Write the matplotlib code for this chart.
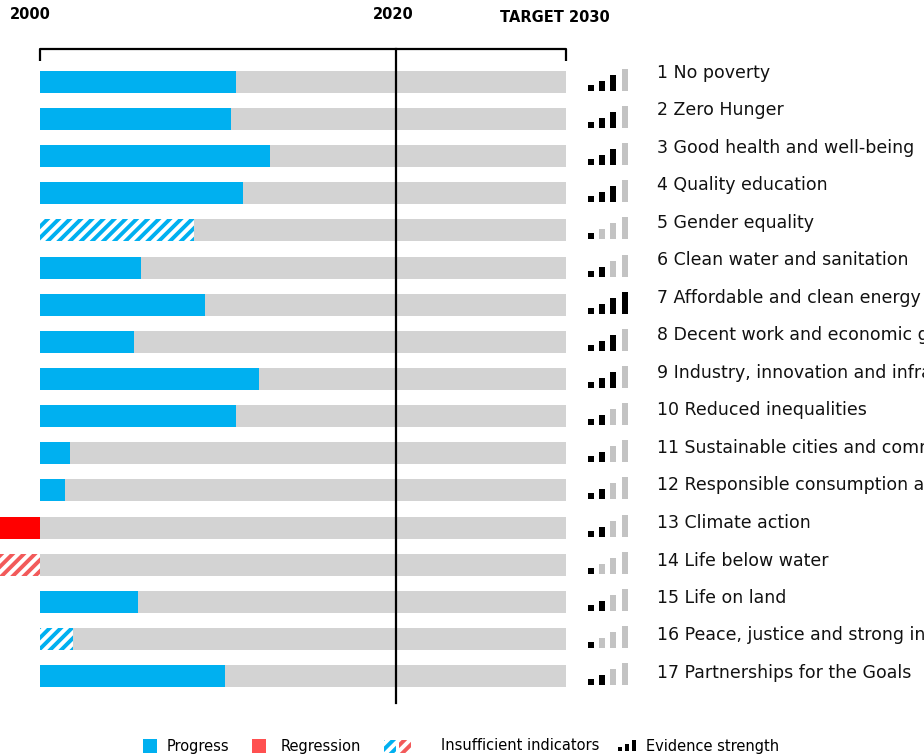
import matplotlib
matplotlib.use("Agg")
import matplotlib.pyplot as plt
from matplotlib.patches import Rectangle

plt.rcParams['font.family'] = ['DejaVu Sans']
plt.rcParams['hatch.linewidth'] = 2.8

# data
goals = ['1 No poverty', '2 Zero Hunger', '3 Good health and well-being',
         '4 Quality education', '5 Gender equality',
         '6 Clean water and sanitation', '7 Affordable and clean energy',
         '8 Decent work and economic growth',
         '9 Industry, innovation and infrastructure',
         '10 Reduced inequalities', '11 Sustainable cities and communities',
         '12 Responsible consumption and production', '13 Climate action',
         '14 Life below water', '15 Life on land',
         '16 Peace, justice and strong institutions',
         '17 Partnerships for the Goals']
# progress towards 2030 target, % (2000 = 0, target = 100)
progress = [37.3, 36.3, 43.7, 38.6, 29.3, 19.2, 31.4, 17.9, 41.6, 37.3,
            5.7, 4.8, -10, -10, 18.6, 6.3, 35.2]
insufficient = [False, False, False, False, True, False, False, False, False,
                False, False, False, False, True, False, True, False]
evidence = [3, 3, 3, 3, 1, 2, 4, 3, 3, 2, 2, 2, 2, 1, 2, 1, 2]
year_2020 = 67.7

BLUE = '#00b0f0'
RED = '#ff0000'
RED_H = '#f25a5a'
GREY = '#d3d3d3'
EV_GREY = '#c3c3c3'

# layout: pixel helpers (figure is 924x755 px)
PX0, PXU = 40.0, 5.26      # x px of 0 %, px per %
PY0, PYU = 82.0, 37.125    # y px of first row, px per row


def px(x):
    return (x - PX0) / PXU


def py(y):
    return (y - PY0) / PYU


fig = plt.figure(figsize=(9.24, 7.55), dpi=100)
ax = fig.add_axes([0, 0, 1, 1])
ax.set_xlim(px(0), px(924))
ax.set_ylim(py(755), py(0))
ax.axis('off')

rows = list(range(len(goals)))
bh = 22 / PYU

ax.barh(rows, 100, height=bh, color=GREY, linewidth=0)
for i, v in enumerate(progress):
    if v < 0:
        col = RED_H if insufficient[i] else RED
    else:
        col = BLUE
    if insufficient[i]:
        ax.barh(i, v, height=bh, facecolor='white', edgecolor=col,
                hatch='///', linewidth=0)
    else:
        ax.barh(i, v, height=bh, color=col, linewidth=0)

# evidence strength icons
ev_x = [px(591), px(602), px(613), px(625)]
ev_h = [6 / PYU, 10 / PYU, 16 / PYU, 22 / PYU]
for i, n in enumerate(evidence):
    cols = ['black' if k < n else EV_GREY for k in range(4)]
    ax.bar(ev_x, [-h for h in ev_h], bottom=i + 9 / PYU, width=6.5 / PXU,
           color=cols, linewidth=0)

# goal labels
for i, g in enumerate(goals):
    ax.text(px(657), py(73 + 37.5 * i), g, fontsize=12.5, va='center',
            ha='left', color='#111111')

# top bracket and 2020 line
ax.plot([0, 0, 100, 100], [py(61), py(49), py(49), py(61)],
        color='black', lw=1.6, solid_capstyle='butt')
ax.plot([year_2020, year_2020], [py(49), py(703)], color='black', lw=1.6)
ax.text(px(10), py(15), '2000', fontsize=10.5, fontweight='bold',
        ha='left', va='center')
ax.text(px(393), py(15), '2020', fontsize=10.5, fontweight='bold',
        ha='center', va='center')
ax.text(px(555), py(18), 'TARGET 2030', fontsize=10.5, fontweight='bold',
        ha='center', va='center')

# legend
ly = py(746)
sq = 14
ax.add_patch(Rectangle((px(143), py(739)), sq / PXU, sq / PYU,
                       color=BLUE, lw=0))
ax.text(px(167), ly, 'Progress', fontsize=10.5, va='center')
ax.add_patch(Rectangle((px(252), py(739)), sq / PXU, sq / PYU,
                       color='#ff5050', lw=0))
ax.text(px(281), ly, 'Regression', fontsize=10.5, va='center')
ax.add_patch(Rectangle((px(384), py(740)), 12 / PXU, 13 / PYU,
                       facecolor='white', edgecolor=BLUE, hatch='///', lw=0))
ax.add_patch(Rectangle((px(399), py(740)), 12 / PXU, 13 / PYU,
                       facecolor='white', edgecolor=RED_H, hatch='///', lw=0))
ax.text(px(441), ly, 'Insufficient indicators', fontsize=10.5, va='center')
ax.bar([px(620), px(627), px(634)], [-4 / PYU, -7 / PYU, -11 / PYU],
       bottom=py(751), width=4 / PXU, color='black', linewidth=0)
ax.text(px(646), ly, 'Evidence strength', fontsize=10.5, va='center')

fig.savefig('out.png', dpi=100)
